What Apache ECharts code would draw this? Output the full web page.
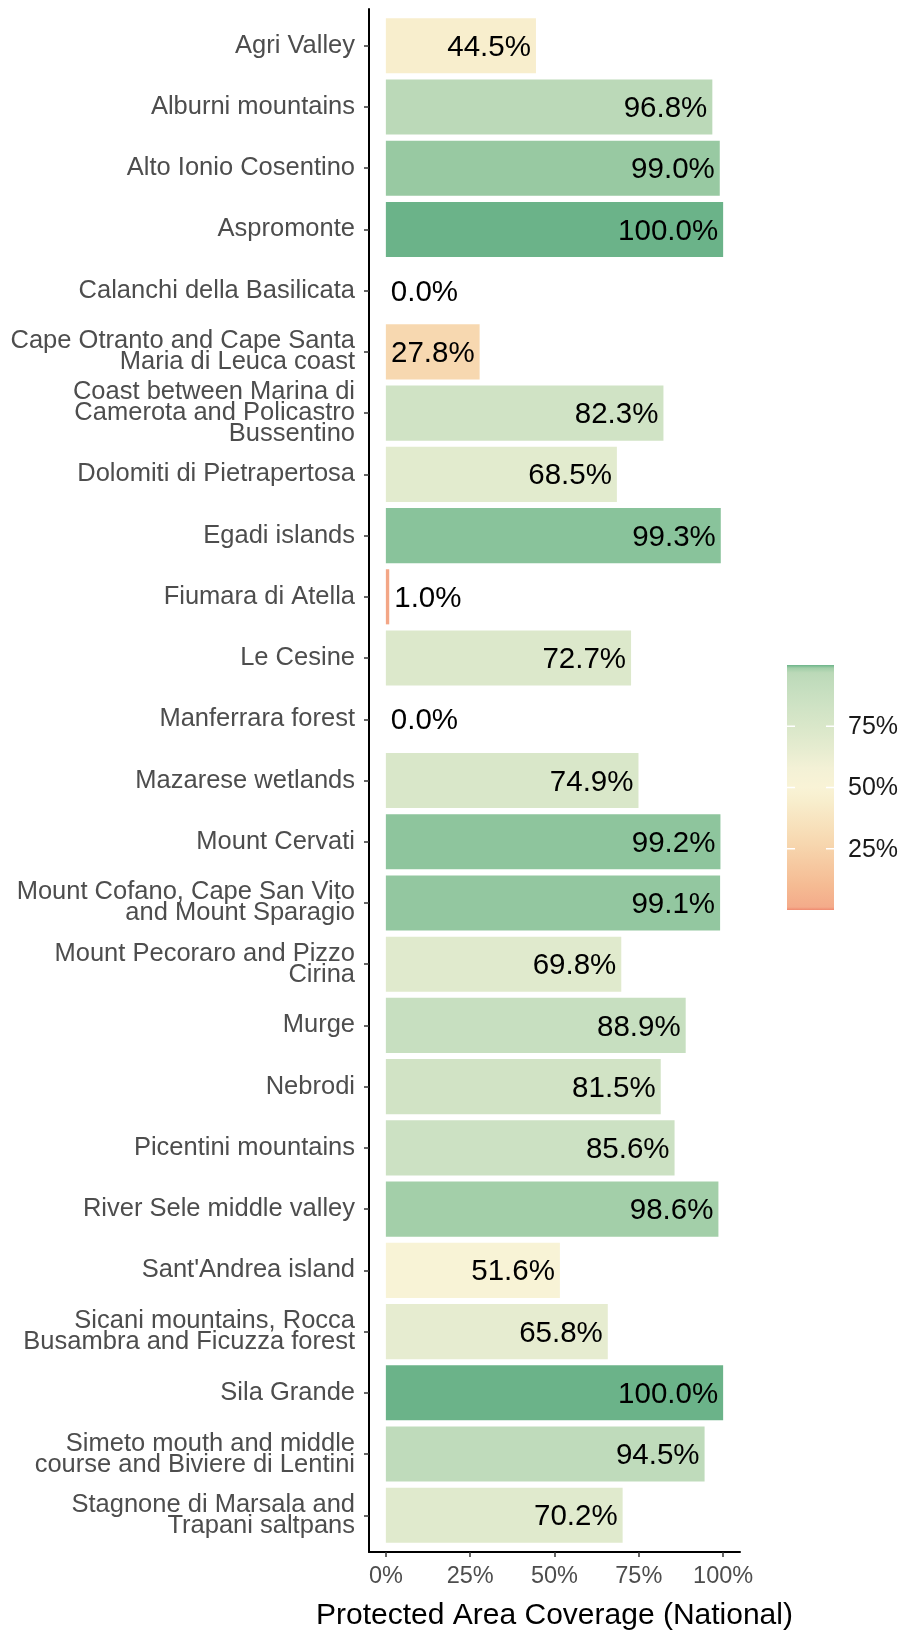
<!DOCTYPE html>
<html><head><meta charset="utf-8">
<script src="https://cdn.jsdelivr.net/npm/echarts@6/dist/echarts.min.js"></script>
<style>html,body{margin:0;padding:0;background:#fff}#c{width:903px;height:1631px}</style>
</head><body><div id="c"></div>
<script>
const categories = [
  "Agri Valley",
  "Alburni mountains",
  "Alto Ionio Cosentino",
  "Aspromonte",
  "Calanchi della Basilicata",
  "Cape Otranto and Cape Santa\nMaria di Leuca coast",
  "Coast between Marina di\nCamerota and Policastro\nBussentino",
  "Dolomiti di Pietrapertosa",
  "Egadi islands",
  "Fiumara di Atella",
  "Le Cesine",
  "Manferrara forest",
  "Mazarese wetlands",
  "Mount Cervati",
  "Mount Cofano, Cape San Vito\nand Mount Sparagio",
  "Mount Pecoraro and Pizzo\nCirina",
  "Murge",
  "Nebrodi",
  "Picentini mountains",
  "River Sele middle valley",
  "Sant'Andrea island",
  "Sicani mountains, Rocca\nBusambra and Ficuzza forest",
  "Sila Grande",
  "Simeto mouth and middle\ncourse and Biviere di Lentini",
  "Stagnone di Marsala and\nTrapani saltpans"
];
const values = [0.445, 0.968, 0.990, 1.000, 0.000, 0.278, 0.823, 0.685, 0.993, 0.010,
                0.727, 0.000, 0.749, 0.992, 0.991, 0.698, 0.889, 0.815, 0.856, 0.986,
                0.516, 0.658, 1.000, 0.945, 0.702];
const xTickValues = [0, 0.25, 0.5, 0.75, 1];
const xTickLabels = ["0%", "25%", "50%", "75%", "100%"];
const legendTickValues = [0.25, 0.5, 0.75];
const legendTickLabels = ["25%", "50%", "75%"];
const colorStopValues = [0, 0.012, 0.1, 0.278, 0.445, 0.5, 0.58, 0.658, 0.75, 0.823, 0.889, 0.945, 0.968, 0.986, 0.99, 0.993, 1];
const colorStopColors = ['#f08a70','#f4ab8a','#f5bb93','#f7d8b0','#f8eecd','#f9f3d6','#f3f1d6','#e6ecd0','#d9e7c9','#d0e3c5','#c7dfc0','#bfdbbb','#bbd9b8','#a3cfa9','#98c9a2','#89c39b','#6bb389'];

function hexToRgb(h){ return [parseInt(h.slice(1,3),16), parseInt(h.slice(3,5),16), parseInt(h.slice(5,7),16)]; }
function colorFor(v){
  if (v <= colorStopValues[0]) return colorStopColors[0];
  for (let k = 1; k < colorStopValues.length; k++){
    if (v <= colorStopValues[k]){
      const t = (v - colorStopValues[k-1]) / (colorStopValues[k] - colorStopValues[k-1]);
      const a = hexToRgb(colorStopColors[k-1]), b = hexToRgb(colorStopColors[k]);
      const c = a.map((x, j) => Math.round(x + (b[j] - x) * t));
      return 'rgb(' + c.join(',') + ')';
    }
  }
  return colorStopColors[colorStopColors.length - 1];
}

const FONT = "'Liberation Sans', Arial, sans-serif";
const chart = echarts.init(document.getElementById('c'), null, {renderer: 'canvas'});
const data = values.map((v, i) => [v, i]);

function renderItem(params, api){
  const v = api.value(0), i = api.value(1);
  const p0 = api.coord([0, i]);
  const p1 = api.coord([v, i]);
  const h = api.size([0, 0.9])[1];
  const small = v < 0.2;
  return {
    type: 'group',
    children: [
      {type: 'rect', shape: {x: p0[0], y: p0[1] - h / 2, width: p1[0] - p0[0], height: h},
       style: {fill: colorFor(v)}},
      {type: 'text', z2: 10, style: {text: (v * 100).toFixed(1) + '%', x: small ? p1[0] + 5 : p1[0] - 5, y: p0[1] + 2,
        align: small ? 'left' : 'right', verticalAlign: 'middle', fontSize: 29.5, fontFamily: FONT, fill: '#000'}}
    ]
  };
}

// legend geometry
const LX = 787, LY = 665, LW = 47, LH = 245;
const gradStops = colorStopValues.map((v, k) => ({offset: 1 - v, color: colorStopColors[k]})).reverse();
const legendChildren = [
  {type: 'rect', shape: {x: LX, y: LY, width: LW, height: LH},
   style: {fill: new echarts.graphic.LinearGradient(0, 0, 0, 1, gradStops)}}
];
legendTickValues.forEach((v, k) => {
  const y = LY + (1 - v) * LH;
  legendChildren.push({type: 'line', shape: {x1: LX, y1: y, x2: LX + 8, y2: y}, style: {stroke: '#fff', lineWidth: 1.5}});
  legendChildren.push({type: 'line', shape: {x1: LX + LW - 8, y1: y, x2: LX + LW, y2: y}, style: {stroke: '#fff', lineWidth: 1.5}});
  legendChildren.push({type: 'text', style: {text: legendTickLabels[k], x: 848, y: y + 1, verticalAlign: 'middle', fontSize: 25, fontFamily: FONT, fill: '#1a1a1a'}});
});

const option = {
  animation: false,
  backgroundColor: '#fff',
  grid: {left: 369, right: 163, top: 9, bottom: 79, containLabel: false, outerBoundsMode: 'none'},
  xAxis: {
    type: 'value', min: -0.05, max: 1.05,
    splitLine: {show: false},
    axisLine: {show: true, onZero: false, lineStyle: {color: '#000', width: 2}},
    axisTick: {show: true, customValues: xTickValues, length: 5, lineStyle: {color: '#333', width: 1.5}},
    axisLabel: {show: true, customValues: xTickValues, margin: 13,
      formatter: v => { const k = xTickValues.findIndex(t => Math.abs(t - v) < 1e-9); return k >= 0 ? xTickLabels[k] : ''; },
      fontSize: 23.5, fontFamily: FONT, color: '#4d4d4d'},
    name: 'Protected Area Coverage (National)', nameLocation: 'middle', nameGap: 49,
    nameTextStyle: {fontSize: 30, fontFamily: FONT, color: '#000'}
  },
  yAxis: {
    type: 'value', inverse: true, min: -0.6, max: 24.6,
    splitLine: {show: false},
    axisLine: {show: true, onZero: false, lineStyle: {color: '#000', width: 2}},
    axisTick: {show: true, customValues: categories.map((c, i) => i), length: 5, lineStyle: {color: '#333', width: 1.5}},
    axisLabel: {show: true, customValues: categories.map((c, i) => i), margin: 14,
      formatter: v => categories[Math.round(v)] || '',
      fontSize: 25.5, lineHeight: 21, fontFamily: FONT, color: '#4d4d4d', align: 'right'}
  },
  series: [{type: 'custom', data: data, encode: {x: 0, y: 1}, renderItem: renderItem, clip: false}],
  graphic: [{type: 'group', children: legendChildren}]
};
chart.setOption(option);
</script>
</body></html>
